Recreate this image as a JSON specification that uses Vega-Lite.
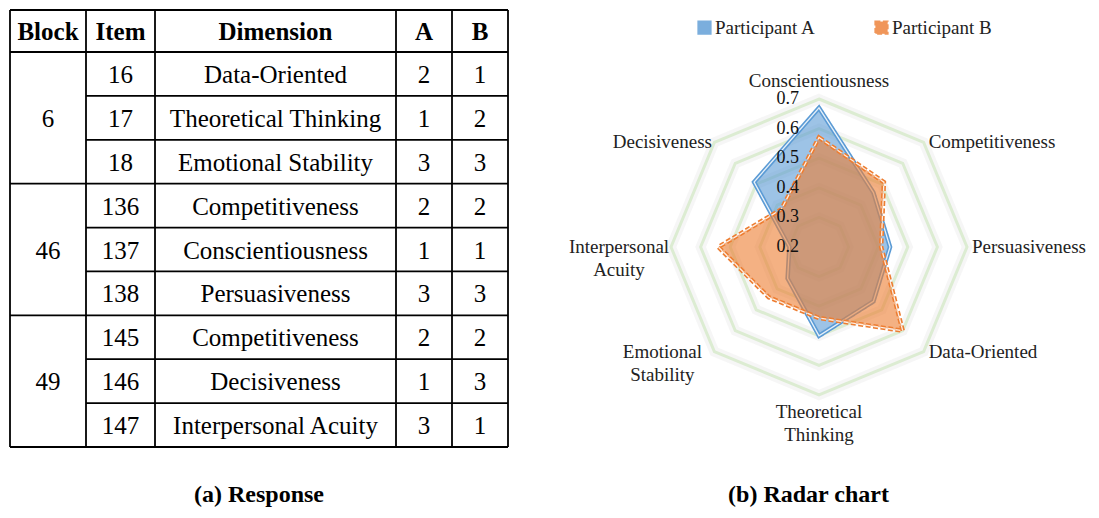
{
  "$schema": "https://vega.github.io/schema/vega-lite/v6.json",
  "padding": 0,
  "spacing": 0,
  "bounds": "flush",
  "background": "white",
  "config": {"view": {"stroke": null}, "font": "Liberation Serif"},
  "datasets": {
    "table": [
      {"Block": 6, "Item": 16, "Dimension": "Data-Oriented", "A": 2, "B": 1},
      {"Block": 6, "Item": 17, "Dimension": "Theoretical Thinking", "A": 1, "B": 2},
      {"Block": 6, "Item": 18, "Dimension": "Emotional Stability", "A": 3, "B": 3},
      {"Block": 46, "Item": 136, "Dimension": "Competitiveness", "A": 2, "B": 2},
      {"Block": 46, "Item": 137, "Dimension": "Conscientiousness", "A": 1, "B": 1},
      {"Block": 46, "Item": 138, "Dimension": "Persuasiveness", "A": 3, "B": 3},
      {"Block": 49, "Item": 145, "Dimension": "Competitiveness", "A": 2, "B": 2},
      {"Block": 49, "Item": 146, "Dimension": "Decisiveness", "A": 1, "B": 3},
      {"Block": 49, "Item": 147, "Dimension": "Interpersonal Acuity", "A": 3, "B": 1}
    ],
    "columns": [{"col": "Block"}, {"col": "Item"}, {"col": "Dimension"}, {"col": "A"}, {"col": "B"}],
    "dims": [
      {"dimension": "Conscientiousness", "k": 0},
      {"dimension": "Competitiveness", "k": 1},
      {"dimension": "Persuasiveness", "k": 2},
      {"dimension": "Data-Oriented", "k": 3},
      {"dimension": "Theoretical Thinking", "k": 4},
      {"dimension": "Emotional Stability", "k": 5},
      {"dimension": "Interpersonal Acuity", "k": 6},
      {"dimension": "Decisiveness", "k": 7}
    ],
    "radar": [
      {"participant": "Participant A", "dimension": "Conscientiousness", "value": 0.67},
      {"participant": "Participant A", "dimension": "Competitiveness", "value": 0.46},
      {"participant": "Participant A", "dimension": "Persuasiveness", "value": 0.44},
      {"participant": "Participant A", "dimension": "Data-Oriented", "value": 0.46},
      {"participant": "Participant A", "dimension": "Theoretical Thinking", "value": 0.5},
      {"participant": "Participant A", "dimension": "Emotional Stability", "value": 0.35},
      {"participant": "Participant A", "dimension": "Interpersonal Acuity", "value": 0.3},
      {"participant": "Participant A", "dimension": "Decisiveness", "value": 0.51},
      {"participant": "Participant B", "dimension": "Conscientiousness", "value": 0.57},
      {"participant": "Participant B", "dimension": "Competitiveness", "value": 0.51},
      {"participant": "Participant B", "dimension": "Persuasiveness", "value": 0.41},
      {"participant": "Participant B", "dimension": "Data-Oriented", "value": 0.6},
      {"participant": "Participant B", "dimension": "Theoretical Thinking", "value": 0.44},
      {"participant": "Participant B", "dimension": "Emotional Stability", "value": 0.44},
      {"participant": "Participant B", "dimension": "Interpersonal Acuity", "value": 0.54},
      {"participant": "Participant B", "dimension": "Decisiveness", "value": 0.38}
    ],
    "levels": [{"level": 0.2}, {"level": 0.3}, {"level": 0.4}, {"level": 0.5}, {"level": 0.6}, {"level": 0.7}],
    "rings": [
      {"level": 0.3, "k": [0, 1, 2, 3, 4, 5, 6, 7]},
      {"level": 0.4, "k": [0, 1, 2, 3, 4, 5, 6, 7]},
      {"level": 0.5, "k": [0, 1, 2, 3, 4, 5, 6, 7]},
      {"level": 0.6, "k": [0, 1, 2, 3, 4, 5, 6, 7]},
      {"level": 0.7, "k": [0, 1, 2, 3, 4, 5, 6, 7]}
    ]
  },
  "hconcat": [
    {
      "width": 518,
      "height": 518,
      "title": {"text": "(a) Response", "orient": "bottom", "anchor": "middle", "fontSize": 24, "fontWeight": "bold", "font": "Times New Roman, Liberation Serif, serif", "color": "black", "baseline": "alphabetic", "offset": -16},
      "layer": [
        {
          "data": {"name": "columns"},
          "transform": [{"window": [{"op": "row_number", "as": "n"}]}, {"calculate": "datum.n - 1", "as": "ci"}],
          "mark": {"type": "rule", "color": "black", "strokeWidth": 1.8},
          "encoding": {
            "x": {"field": "ci", "type": "quantitative", "scale": {"type": "linear", "domain": [0, 1, 2, 3, 4, 5], "range": [10, 86, 155, 396, 452, 508], "nice": false, "zero": false}, "axis": null},
            "y": {"datum": 0, "type": "quantitative", "scale": {"type": "linear", "domain": [0, 1, 10], "range": [10, 52, 447], "nice": false, "zero": false}, "axis": null},
            "y2": {"datum": 10}
          }
        },
        {
          "data": {"values": [{}]},
          "mark": {"type": "rule", "color": "black", "strokeWidth": 1.8},
          "encoding": {
            "x": {"datum": 5, "type": "quantitative"},
            "y": {"datum": 0, "type": "quantitative"},
            "y2": {"datum": 10}
          }
        },
        {
          "data": {"values": [{}]},
          "mark": {"type": "rule", "color": "black", "strokeWidth": 1.8},
          "encoding": {
            "x": {"datum": 0, "type": "quantitative"},
            "x2": {"datum": 5},
            "y": {"datum": 0, "type": "quantitative"}
          }
        },
        {
          "data": {"values": [{}]},
          "mark": {"type": "rule", "color": "black", "strokeWidth": 1.8},
          "encoding": {
            "x": {"datum": 0, "type": "quantitative"},
            "x2": {"datum": 5},
            "y": {"datum": 1, "type": "quantitative"}
          }
        },
        {
          "data": {"name": "table"},
          "transform": [
            {"window": [{"op": "row_number", "as": "row"}]},
            {"joinaggregate": [{"op": "max", "field": "row", "as": "maxrow"}], "groupby": ["Block"]},
            {"calculate": "datum.row == datum.maxrow ? 0 : 1", "as": "x0"},
            {"calculate": "datum.row + 1", "as": "yb"}
          ],
          "mark": {"type": "rule", "color": "black", "strokeWidth": 1.8},
          "encoding": {
            "x": {"field": "x0", "type": "quantitative"},
            "x2": {"datum": 5},
            "y": {"field": "yb", "type": "quantitative"}
          }
        },
        {
          "data": {"name": "columns"},
          "transform": [{"window": [{"op": "row_number", "as": "n"}]}, {"calculate": "datum.n - 0.5", "as": "cx"}],
          "mark": {"type": "text", "fontSize": 25, "fontWeight": "bold", "font": "Times New Roman, Liberation Serif, serif", "color": "black", "baseline": "middle", "dy": 1},
          "encoding": {
            "x": {"field": "cx", "type": "quantitative"},
            "y": {"datum": 0.5, "type": "quantitative"},
            "text": {"field": "col"}
          }
        },
        {
          "data": {"name": "table"},
          "transform": [
            {"window": [{"op": "row_number", "as": "row"}]},
            {"fold": ["Item", "Dimension", "A", "B"], "as": ["key", "val"]},
            {"calculate": "indexof(['Block','Item','Dimension','A','B'], datum.key) + 0.5", "as": "cx"},
            {"calculate": "datum.row + 0.5", "as": "cy"}
          ],
          "mark": {"type": "text", "fontSize": 25, "font": "Times New Roman, Liberation Serif, serif", "color": "black", "baseline": "middle", "dy": 1},
          "encoding": {
            "x": {"field": "cx", "type": "quantitative"},
            "y": {"field": "cy", "type": "quantitative"},
            "text": {"field": "val", "type": "nominal"}
          }
        },
        {
          "data": {"name": "table"},
          "transform": [
            {"window": [{"op": "row_number", "as": "row"}]},
            {"aggregate": [{"op": "mean", "field": "row", "as": "mr"}], "groupby": ["Block"]},
            {"calculate": "datum.mr + 0.5", "as": "cy"}
          ],
          "mark": {"type": "text", "fontSize": 25, "font": "Times New Roman, Liberation Serif, serif", "color": "black", "baseline": "middle", "dy": 1},
          "encoding": {
            "x": {"datum": 0.5, "type": "quantitative"},
            "y": {"field": "cy", "type": "quantitative"},
            "text": {"field": "Block", "type": "nominal"}
          }
        }
      ]
    },
    {
      "width": 581,
      "height": 518,
      "title": {"text": "(b) Radar chart", "orient": "bottom", "anchor": "middle", "fontSize": 24, "fontWeight": "bold", "font": "Times New Roman, Liberation Serif, serif", "color": "black", "baseline": "alphabetic", "offset": -16},
      "layer": [
        {
          "data": {"name": "rings"},
          "transform": [
            {"flatten": ["k"]},
            {"calculate": "datum.k * PI / 4", "as": "t"},
            {"calculate": "(datum.level - 0.2) * sin(datum.t)", "as": "px"},
            {"calculate": "(datum.level - 0.2) * cos(datum.t)", "as": "py"}
          ],
          "mark": {"type": "line", "interpolate": "linear-closed", "stroke": "#9a9a9a", "strokeWidth": 10, "strokeOpacity": 0.09, "strokeJoin": "miter"},
          "encoding": {
            "x": {"field": "px", "type": "quantitative", "scale": {"domain": [-1.01689, 0.94595], "nice": false, "zero": false}, "axis": null},
            "y": {"field": "py", "type": "quantitative", "scale": {"domain": [-0.91554, 0.83446], "nice": false, "zero": false}, "axis": null},
            "detail": {"field": "level", "type": "nominal"},
            "order": {"field": "k", "type": "quantitative"}
          }
        },
        {
          "data": {"name": "rings"},
          "transform": [
            {"flatten": ["k"]},
            {"calculate": "datum.k * PI / 4", "as": "t"},
            {"calculate": "(datum.level - 0.2) * sin(datum.t)", "as": "px"},
            {"calculate": "(datum.level - 0.2) * cos(datum.t)", "as": "py"}
          ],
          "mark": {"type": "line", "interpolate": "linear-closed", "stroke": "#dcecd2", "strokeWidth": 3, "strokeJoin": "miter"},
          "encoding": {
            "x": {"field": "px", "type": "quantitative"},
            "y": {"field": "py", "type": "quantitative"},
            "detail": {"field": "level", "type": "nominal"},
            "order": {"field": "k", "type": "quantitative"}
          }
        },
        {
          "data": {"name": "radar"},
          "transform": [
            {"filter": "datum.participant == 'Participant A'"},
            {"lookup": "dimension", "from": {"data": {"name": "dims"}, "key": "dimension", "fields": ["k"]}},
            {"calculate": "datum.k * PI / 4", "as": "t"},
            {"calculate": "(datum.value - 0.2) * sin(datum.t)", "as": "px"},
            {"calculate": "(datum.value - 0.2) * cos(datum.t)", "as": "py"}
          ],
          "mark": {"type": "line", "interpolate": "linear-closed", "fillOpacity": 0.6, "strokeWidth": 4.5, "strokeJoin": "miter"},
          "encoding": {
            "x": {"field": "px", "type": "quantitative"},
            "y": {"field": "py", "type": "quantitative"},
            "fill": {"field": "participant", "type": "nominal", "scale": {"domain": ["Participant A", "Participant B"], "range": ["#5b9bd5", "#ed7d31"]}, "legend": {"orient": "none", "legendX": 695, "legendY": 18, "direction": "horizontal", "title": null, "labelFontSize": 19, "labelFont": "Times New Roman, Liberation Serif, serif", "labelColor": "#222", "symbolType": "square", "symbolSize": 150, "symbolStrokeWidth": 2, "symbolOpacity": 0.8, "columnPadding": 55, "labelOffset": 1, "padding": 0}},
            "stroke": {"field": "participant", "type": "nominal", "scale": {"domain": ["Participant A", "Participant B"], "range": ["#5b9bd5", "#ed7d31"]}, "legend": {"orient": "none", "legendX": 695, "legendY": 18, "direction": "horizontal", "title": null, "labelFontSize": 19, "labelFont": "Times New Roman, Liberation Serif, serif", "labelColor": "#222", "symbolType": "square", "symbolSize": 150, "symbolStrokeWidth": 2, "symbolOpacity": 0.8, "columnPadding": 55, "labelOffset": 1, "padding": 0}},
            "strokeDash": {"field": "participant", "type": "nominal", "scale": {"domain": ["Participant A", "Participant B"], "range": [[1, 0], [5, 2.5]]}, "legend": {"orient": "none", "legendX": 695, "legendY": 18, "direction": "horizontal", "title": null, "labelFontSize": 19, "labelFont": "Times New Roman, Liberation Serif, serif", "labelColor": "#222", "symbolType": "square", "symbolSize": 150, "symbolStrokeWidth": 2, "symbolOpacity": 0.8, "columnPadding": 55, "labelOffset": 1, "padding": 0}},
            "order": {"field": "k", "type": "quantitative"}
          }
        },
        {
          "data": {"name": "radar"},
          "transform": [
            {"filter": "datum.participant == 'Participant A'"},
            {"lookup": "dimension", "from": {"data": {"name": "dims"}, "key": "dimension", "fields": ["k"]}},
            {"calculate": "datum.k * PI / 4", "as": "t"},
            {"calculate": "(datum.value - 0.2) * sin(datum.t)", "as": "px"},
            {"calculate": "(datum.value - 0.2) * cos(datum.t)", "as": "py"}
          ],
          "mark": {"type": "line", "interpolate": "linear-closed", "stroke": "white", "strokeWidth": 1.3, "strokeOpacity": 0.85, "strokeJoin": "miter"},
          "encoding": {
            "x": {"field": "px", "type": "quantitative"},
            "y": {"field": "py", "type": "quantitative"},
            "order": {"field": "k", "type": "quantitative"}
          }
        },
        {
          "data": {"name": "radar"},
          "transform": [
            {"filter": "datum.participant == 'Participant B'"},
            {"lookup": "dimension", "from": {"data": {"name": "dims"}, "key": "dimension", "fields": ["k"]}},
            {"calculate": "datum.k * PI / 4", "as": "t"},
            {"calculate": "(datum.value - 0.2) * sin(datum.t)", "as": "px"},
            {"calculate": "(datum.value - 0.2) * cos(datum.t)", "as": "py"}
          ],
          "mark": {"type": "line", "interpolate": "linear-closed", "fillOpacity": 0.6, "strokeWidth": 4.5, "strokeJoin": "miter"},
          "encoding": {
            "x": {"field": "px", "type": "quantitative"},
            "y": {"field": "py", "type": "quantitative"},
            "fill": {"field": "participant", "type": "nominal"},
            "stroke": {"field": "participant", "type": "nominal"},
            "strokeDash": {"field": "participant", "type": "nominal"},
            "order": {"field": "k", "type": "quantitative"}
          }
        },
        {
          "data": {"name": "radar"},
          "transform": [
            {"filter": "datum.participant == 'Participant B'"},
            {"lookup": "dimension", "from": {"data": {"name": "dims"}, "key": "dimension", "fields": ["k"]}},
            {"calculate": "datum.k * PI / 4", "as": "t"},
            {"calculate": "(datum.value - 0.2) * sin(datum.t)", "as": "px"},
            {"calculate": "(datum.value - 0.2) * cos(datum.t)", "as": "py"}
          ],
          "mark": {"type": "line", "interpolate": "linear-closed", "stroke": "white", "strokeWidth": 1.3, "strokeOpacity": 0.85, "strokeDash": [5, 2.5], "strokeJoin": "miter"},
          "encoding": {
            "x": {"field": "px", "type": "quantitative"},
            "y": {"field": "py", "type": "quantitative"},
            "order": {"field": "k", "type": "quantitative"}
          }
        },
        {
          "data": {"name": "levels"},
          "transform": [{"calculate": "datum.level - 0.2", "as": "py"}],
          "mark": {"type": "text", "align": "right", "baseline": "middle", "dx": -20, "fontSize": 18, "font": "Times New Roman, Liberation Serif, serif", "color": "#111"},
          "encoding": {
            "x": {"datum": 0, "type": "quantitative"},
            "y": {"field": "py", "type": "quantitative"},
            "text": {"field": "level", "type": "quantitative", "format": ".1f"}
          }
        },
        {
          "data": {"name": "dims"},
          "transform": [
            {"filter": "datum.k == 0"},
            {"calculate": "datum.k * PI / 4", "as": "t"},
            {"calculate": "0.5 * sin(datum.t)", "as": "px"},
            {"calculate": "0.5 * cos(datum.t)", "as": "py"}
          ],
          "mark": {"type": "text", "align": "center", "baseline": "alphabetic", "dy": -12, "fontSize": 19, "font": "Times New Roman, Liberation Serif, serif", "color": "#222", "lineBreak": " "},
          "encoding": {
            "x": {"field": "px", "type": "quantitative"},
            "y": {"field": "py", "type": "quantitative"},
            "text": {"field": "dimension"}
          }
        },
        {
          "data": {"name": "dims"},
          "transform": [
            {"filter": "datum.k >= 1 && datum.k <= 3"},
            {"calculate": "datum.k * PI / 4", "as": "t"},
            {"calculate": "0.5 * sin(datum.t)", "as": "px"},
            {"calculate": "0.5 * cos(datum.t)", "as": "py"}
          ],
          "mark": {"type": "text", "align": "left", "baseline": "middle", "dx": 5, "fontSize": 19, "font": "Times New Roman, Liberation Serif, serif", "color": "#222", "lineBreak": " "},
          "encoding": {
            "x": {"field": "px", "type": "quantitative"},
            "y": {"field": "py", "type": "quantitative"},
            "text": {"field": "dimension"}
          }
        },
        {
          "data": {"name": "dims"},
          "transform": [
            {"filter": "datum.k == 4"},
            {"calculate": "datum.k * PI / 4", "as": "t"},
            {"calculate": "0.5 * sin(datum.t)", "as": "px"},
            {"calculate": "0.5 * cos(datum.t)", "as": "py"}
          ],
          "mark": {"type": "text", "align": "center", "baseline": "top", "dy": 8, "fontSize": 19, "lineHeight": 23, "font": "Times New Roman, Liberation Serif, serif", "color": "#222", "lineBreak": " "},
          "encoding": {
            "x": {"field": "px", "type": "quantitative"},
            "y": {"field": "py", "type": "quantitative"},
            "text": {"field": "dimension"}
          }
        },
        {
          "data": {"name": "dims"},
          "transform": [
            {"filter": "datum.k >= 5"},
            {"calculate": "datum.k * PI / 4", "as": "t"},
            {"calculate": "0.5 * sin(datum.t)", "as": "px"},
            {"calculate": "0.5 * cos(datum.t)", "as": "py"}
          ],
          "mark": {"type": "text", "align": "center", "baseline": "middle", "dx": -52, "fontSize": 19, "lineHeight": 23, "font": "Times New Roman, Liberation Serif, serif", "color": "#222", "lineBreak": " "},
          "encoding": {
            "x": {"field": "px", "type": "quantitative"},
            "y": {"field": "py", "type": "quantitative"},
            "text": {"field": "dimension"}
          }
        }
      ]
    }
  ]
}
